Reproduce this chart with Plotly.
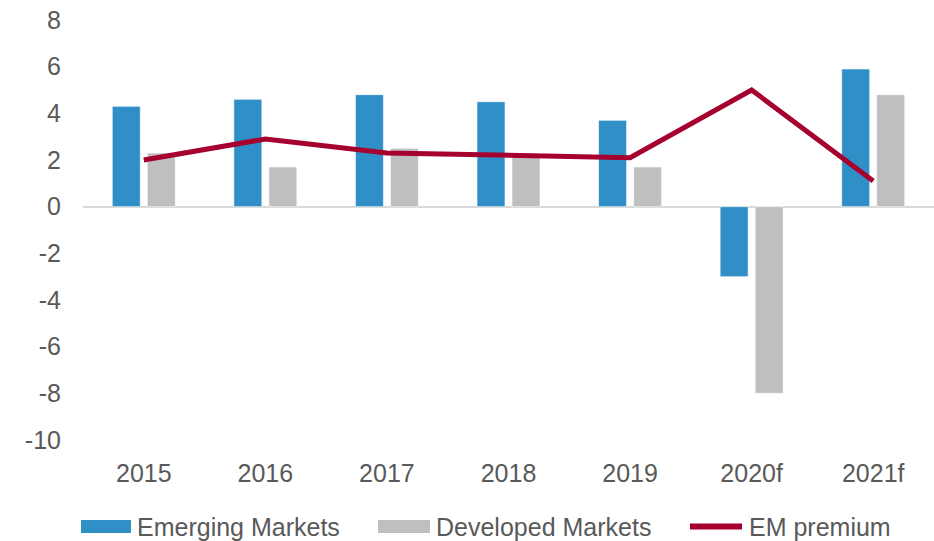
import plotly.graph_objects as go

categories = ["2015", "2016", "2017", "2018", "2019", "2020f", "2021f"]
emerging = [4.3, 4.6, 4.8, 4.5, 3.7, -3.0, 5.9]
developed = [2.3, 1.7, 2.5, 2.2, 1.7, -8.0, 4.8]
em_premium = [2.0, 2.9, 2.3, 2.2, 2.1, 5.0, 1.1]
y_ticks = [8, 6, 4, 2, 0, -2, -4, -6, -8, -10]

BLUE = "#318FC7"
GREY = "#BFBFBF"
RED = "#A6002F"
TXT = "#595959"
FONT = "Liberation Sans, Arial, sans-serif"

W, H = 934, 541
ML, MR, MT, MB = 83, 0, 20, 101
PW, PH = W - ML - MR, H - MT - MB

fig = go.Figure()
fig.add_trace(go.Bar(x=categories, y=emerging, name="Emerging Markets",
                     marker=dict(color=BLUE, line=dict(color="rgba(255,255,255,0.6)", width=1)),
                     showlegend=False))
fig.add_trace(go.Bar(x=categories, y=developed, name="Developed Markets",
                     marker=dict(color=GREY, line=dict(color="rgba(255,255,255,0.6)", width=1)),
                     showlegend=False))
fig.add_trace(go.Scatter(x=categories, y=em_premium, name="EM premium", mode="lines",
                         line=dict(color=RED, width=5), showlegend=False))

def px_x(p):
    return (p - ML) / PW

def px_y(p):
    return (H - MB - p) / PH

shapes = [
    dict(type="rect", xref="paper", yref="paper", x0=px_x(81), x1=px_x(131),
         y0=px_y(533), y1=px_y(520), fillcolor=BLUE, line=dict(width=0)),
    dict(type="rect", xref="paper", yref="paper", x0=px_x(378), x1=px_x(430),
         y0=px_y(533), y1=px_y(520), fillcolor=GREY, line=dict(width=0)),
    dict(type="line", xref="paper", yref="paper", x0=px_x(690), x1=px_x(742),
         y0=px_y(526.5), y1=px_y(526.5), line=dict(color=RED, width=6)),
]
annotations = [
    dict(text="Emerging Markets", x=px_x(135), y=px_y(526.5)),
    dict(text="Developed Markets", x=px_x(434), y=px_y(526.5)),
    dict(text="EM premium", x=px_x(747), y=px_y(526.5)),
]
for a in annotations:
    a.update(xref="paper", yref="paper", xanchor="left", yanchor="middle",
             showarrow=False, font=dict(size=25, color=TXT, family=FONT))

fig.update_layout(
    width=W, height=H,
    margin=dict(l=ML, r=MR, t=MT, b=MB, pad=0),
    paper_bgcolor="white", plot_bgcolor="white",
    barmode="group", bargap=0.424, bargroupgap=0.2,
    font=dict(family=FONT, size=25, color=TXT),
    shapes=shapes, annotations=annotations,
)
fig.update_xaxes(showgrid=False, zeroline=False, showline=False, ticks="",
                 tickfont=dict(size=25, color=TXT), ticklabelstandoff=16)
fig.update_yaxes(range=[-10, 8], tickvals=y_ticks, ticktext=[str(v) for v in y_ticks],
                 showgrid=False, zeroline=True, zerolinecolor="#D9D9D9", zerolinewidth=2,
                 showline=False, ticks="", tickfont=dict(size=25, color=TXT),
                 ticklabelstandoff=21)

fig.write_html("out.html", config={"displayModeBar": False},
               post_script="document.body.style.margin='0';document.body.style.overflow='hidden';")
